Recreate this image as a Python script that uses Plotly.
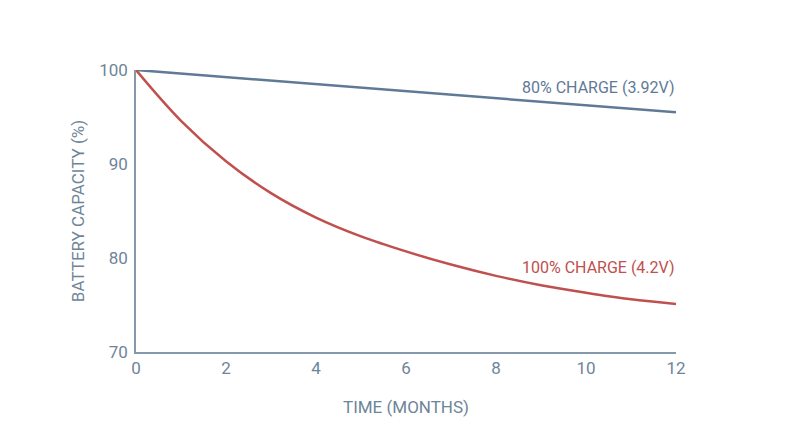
import plotly.graph_objects as go

months = [0, 1, 2, 3, 4, 5, 6, 7, 8, 9, 10, 11, 12]
capacity_full = [100, 94.6, 90.3, 86.9, 84.3, 82.3, 80.7, 79.3, 78.1, 77.1, 76.3, 75.6, 75.1]
blue_months = [0, 12]
capacity_80 = [100, 95.5]

blue = "#5f7a96"
red = "#c0504d"
text_col = "#6e8599"
font = "Roboto, sans-serif"

traces = [
    go.Scatter(x=blue_months, y=capacity_80, mode="lines",
               line=dict(color=blue, width=2.5), name="80% CHARGE (3.92V)"),
    go.Scatter(x=months, y=capacity_full, mode="lines", line_shape="spline",
               line=dict(color=red, width=2.5, smoothing=1), name="100% CHARGE (4.2V)"),
]

# page body has an 8px margin, so the margins are shifted by that
layout = go.Layout(
    width=800, height=447,
    margin=dict(l=128, r=132, t=62, b=103),
    paper_bgcolor="white", plot_bgcolor="white",
    showlegend=False,
    font=dict(family=font, color=text_col, size=17),
    xaxis=dict(range=[0, 12], tickvals=[0, 2, 4, 6, 8, 10, 12],
               showgrid=False, zeroline=False, showline=True,
               linecolor="#8499ad", linewidth=1.5,
               ticks="", ticklen=0,
               title=dict(text="TIME (MONTHS)", standoff=24,
                          font=dict(size=17))),
    yaxis=dict(range=[70, 100], tickvals=[70, 80, 90, 100],
               showgrid=False, zeroline=False, showline=True,
               linecolor="#8499ad", linewidth=1.5,
               ticks="", ticklen=0, ticklabelstandoff=3,
               title=dict(text="BATTERY CAPACITY (%)", standoff=10,
                          font=dict(size=17))),
    annotations=[
        dict(x=12, y=capacity_80[-1], xref="x", yref="y", text="80% CHARGE (3.92V)",
             showarrow=False, xanchor="right", yanchor="bottom", yshift=13,
             font=dict(color=blue, size=16)),
        dict(x=12, y=capacity_full[-1], xref="x", yref="y", text="100% CHARGE (4.2V)",
             showarrow=False, xanchor="right", yanchor="bottom", yshift=25,
             font=dict(color=red, size=16)),
    ],
)

fig = go.Figure(data=traces, layout=layout)
fig.write_html("out.html")
